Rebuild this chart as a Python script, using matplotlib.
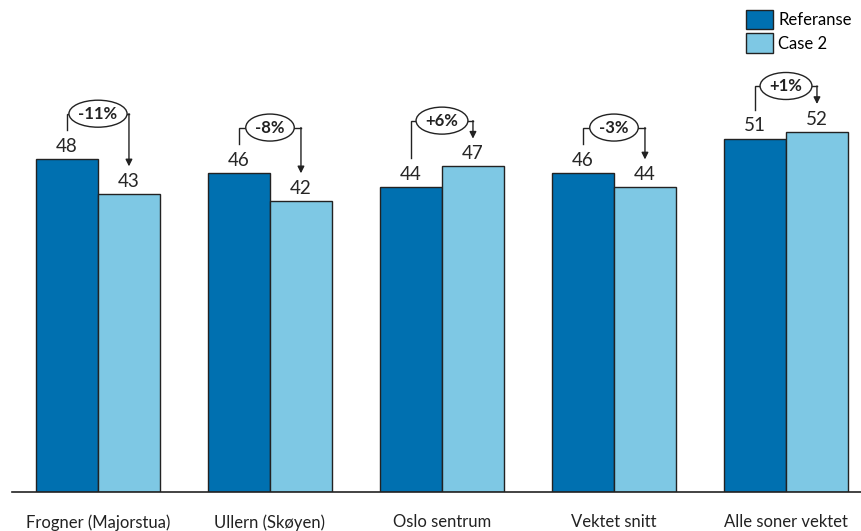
import matplotlib
matplotlib.use("Agg")
import matplotlib.pyplot as plt
from matplotlib.patches import Patch, Ellipse
import numpy as np

plt.rcParams['font.family'] = ['Lato', 'DejaVu Sans']

categories = ["Frogner (Majorstua)", "Ullern (Skøyen)", "Oslo sentrum",
              "Vektet snitt", "Alle soner vektet"]
referanse = [48, 46, 44, 46, 51]
case2 = [43, 42, 47, 44, 52]
changes = ["-11%", "-8%", "+6%", "-3%", "+1%"]
series_names = ["Referanse", "Case 2"]

dark = "#0070B0"
light = "#7EC8E4"
edge = "#222222"
text_col = "#262626"

W, H = 862, 531
fig = plt.figure(figsize=(W / 100, H / 100), dpi=100)
ax = fig.add_axes([12 / W, (H - 492) / H, 1 - 12 / W, 485 / H])

x = np.arange(len(categories))
bw = 0.36
ax.bar(x - bw / 2, referanse, bw, color=dark, edgecolor=edge, linewidth=1, zorder=2)
ax.bar(x + bw / 2, case2, bw, color=light, edgecolor=edge, linewidth=1, zorder=2)

for xi, v1, v2 in zip(x, referanse, case2):
    ax.text(xi - bw / 2, v1 + 0.6, f"{v1}", ha="center", va="bottom",
            fontsize=13.5, color=text_col)
    ax.text(xi + bw / 2, v2 + 0.6, f"{v2}", ha="center", va="bottom",
            fontsize=13.5, color=text_col)

ax.set_xlim(-0.5, (W - 98) / 172)
ax.set_ylim(0, 70)

# change brackets with arrow from reference bar to case bar
labels = []
for xi, v1, v2, lab in zip(x, referanse, case2, changes):
    top = max(v1, v2) + 6.6
    xl, xr = xi - bw / 2, xi + bw / 2
    ax.plot([xl, xl, xr], [v1 + 4.2, top, top], color=edge, lw=1, zorder=3,
            solid_joinstyle="miter")
    ax.annotate("", xy=(xr, v2 + 4.0), xytext=(xr, top),
                arrowprops=dict(arrowstyle="-|>", color=edge, lw=1,
                                mutation_scale=10, shrinkA=0, shrinkB=0),
                zorder=3)
    t = ax.text(xi, top, lab, ha="center", va="center", fontsize=12,
                fontweight="bold", color="#222222", zorder=5)
    labels.append((t, xi, top))

# ellipses sized to the change labels
fig.canvas.draw()
renderer = fig.canvas.get_renderer()
px_per_x = ax.bbox.width / (ax.get_xlim()[1] - ax.get_xlim()[0])
px_per_y = ax.bbox.height / (ax.get_ylim()[1] - ax.get_ylim()[0])
for t, xi, top in labels:
    bb = t.get_window_extent(renderer)
    ew = (bb.width + 19) / px_per_x
    eh = 27 / px_per_y
    ax.add_patch(Ellipse((xi, top), ew, eh, facecolor="white", edgecolor=edge,
                         lw=1, zorder=4))

ax.set_xticks(x)
ax.set_xticklabels(categories, fontsize=12, color="#222222")
ax.tick_params(axis="x", length=0, pad=16)
ax.set_yticks([])
for s in ["top", "right", "left"]:
    ax.spines[s].set_visible(False)
ax.spines["bottom"].set_color("#222222")
ax.spines["bottom"].set_linewidth(1.2)

handles = [Patch(facecolor=dark, edgecolor=edge, label=series_names[0]),
           Patch(facecolor=light, edgecolor=edge, label=series_names[1])]
fig.legend(handles=handles, loc="upper right", bbox_to_anchor=(1.0, 1.0),
           frameon=False, fontsize=12, handlelength=1.6, handleheight=1.4,
           handletextpad=0.35, labelspacing=0.25, borderaxespad=0.2)

fig.savefig("out.png", dpi=100)
